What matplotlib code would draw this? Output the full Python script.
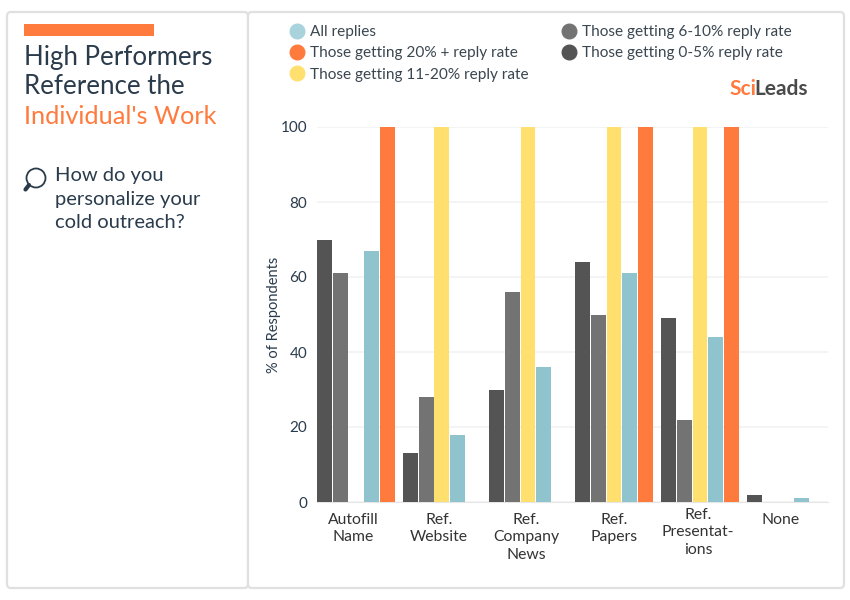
import numpy as np
import matplotlib
matplotlib.use('Agg')
import matplotlib.pyplot as plt
from matplotlib.patches import FancyBboxPatch, Rectangle, Circle
from matplotlib.lines import Line2D
from matplotlib.transforms import ScaledTranslation

plt.rcParams['font.family'] = ['Lato', 'DejaVu Sans']

# Data
categories = ['Autofill\nName', 'Ref.\nWebsite', 'Ref.\nCompany\nNews', 'Ref.\nPapers',
              'Ref.\nPresentat-\nions', 'None']
rate_0_5 = [70, 13, 30, 64, 49, 2]
rate_6_10 = [61, 28, 56, 50, 22, 0]
rate_11_20 = [0, 100, 100, 100, 100, 0]
all_replies = [67, 18, 36, 61, 44, 1]
rate_20_plus = [100, 0, 0, 100, 100, 0]

series = [rate_0_5, rate_6_10, rate_11_20, all_replies, rate_20_plus]
colors = ['#545454', '#737373', '#FFE06E', '#8FC4CE', '#FF7B3D']
legend_labels = ['All replies', 'Those getting 20% + reply rate', 'Those getting 11-20% reply rate',
                 'Those getting 6-10% reply rate', 'Those getting 0-5% reply rate']
legend_colors = ['#A8D3DC', '#FF7B3D', '#FFE06E', '#737373', '#545454']

W, H = 850, 600
NAVY = '#2A3B4C'
ORANGE = '#FF7B3D'

fig = plt.figure(figsize=(8.5, 6), dpi=100)

# background layer in pixel coordinates for the panels and side text
bg = fig.add_axes([0, 0, 1, 1])
bg.set_xlim(0, W)
bg.set_ylim(H, 0)
bg.axis('off')

for x0, x1 in [(7, 248), (248, 844)]:
    bg.add_patch(FancyBboxPatch((x0 + 2, 14), x1 - x0 - 4, 572, boxstyle='round,pad=2,rounding_size=4',
                                fc='white', ec='#E0E0E0', lw=1.6))

bg.add_patch(Rectangle((24, 24), 130, 12, fc=ORANGE, ec='none'))
bg.text(24, 57, 'High Performers', fontsize=18.6, color=NAVY, va='center')
bg.text(24, 87, 'Reference the', fontsize=18.6, color=NAVY, va='center')
bg.text(24, 117, "Individual's Work", fontsize=18.2, color=ORANGE, va='center')

bg.text(55, 176, 'How do you', fontsize=14.5, color=NAVY, va='center')
bg.text(55, 199, 'personalize your', fontsize=14.5, color=NAVY, va='center')
bg.text(55, 222, 'cold outreach?', fontsize=14.5, color=NAVY, va='center')

# magnifying glass
bg.add_patch(Circle((36, 178), 9.5, fc='white', ec=NAVY, lw=1.3))
bg.add_line(Line2D([29, 25.5], [185, 189.5], color=NAVY, lw=3, solid_capstyle='round'))

# logo
bg.text(729, 89, 'Sci', fontsize=15, color=ORANGE, va='center', fontweight='bold')
bg.text(754, 89, 'Leads', fontsize=15, color='#4A4A4A', va='center', fontweight='bold')

# chart
ax = fig.add_axes([317 / W, 1 - 502 / H, (828 - 317) / W, (502 - 127) / H])
ax.patch.set_alpha(0)
x = np.arange(len(categories))
width = 0.183
for i, (vals, c) in enumerate(zip(series, colors)):
    ax.bar(x + (i - 2) * width, vals, width * 0.95, color=c, zorder=3)

ax.set_xlim(-0.453, 5.488)
ax.set_ylim(0, 100)
ax.set_yticks(range(0, 101, 20))
ax.set_xticks(x)
ax.set_xticklabels(categories, fontsize=11.3, color='#333333', linespacing=1.3)
ax.tick_params(axis='both', length=0)
ax.tick_params(axis='y', labelsize=11, labelcolor=NAVY, pad=7)
ax.tick_params(axis='x', pad=8)
ax.grid(axis='y', color='#F2F2F2', lw=1.2, zorder=0)
ax.set_axisbelow(True)
for s in ['top', 'right', 'left']:
    ax.spines[s].set_visible(False)
ax.spines['bottom'].set_color('#E6E6E6')
ax.set_ylabel('% of Respondents', fontsize=10.5, color=NAVY, labelpad=0)

# the labels sit a little left of the groups, Presentat-ions is also raised
label_dx = [-3, -3, -2, 0, -2, -5]
label_dy = [0, 0, 0, 0, 5, 0]
for lab, dx, dy in zip(ax.get_xticklabels(), label_dx, label_dy):
    lab.set_transform(lab.get_transform() + ScaledTranslation(dx / 100, dy / 100, fig.dpi_scale_trans))

handles = [Line2D([], [], marker='o', ls='none', ms=10.5, color=c) for c in legend_colors]
fig.legend(handles, legend_labels, ncol=2, loc='upper left', bbox_to_anchor=(289 / W, 1 - 25 / H),
           frameon=False, fontsize=11.1, labelcolor='#3A4650', labelspacing=0.48,
           handlelength=1, handletextpad=0.35, columnspacing=2.1, borderpad=0, borderaxespad=0)

fig.savefig('out.png', dpi=100)
